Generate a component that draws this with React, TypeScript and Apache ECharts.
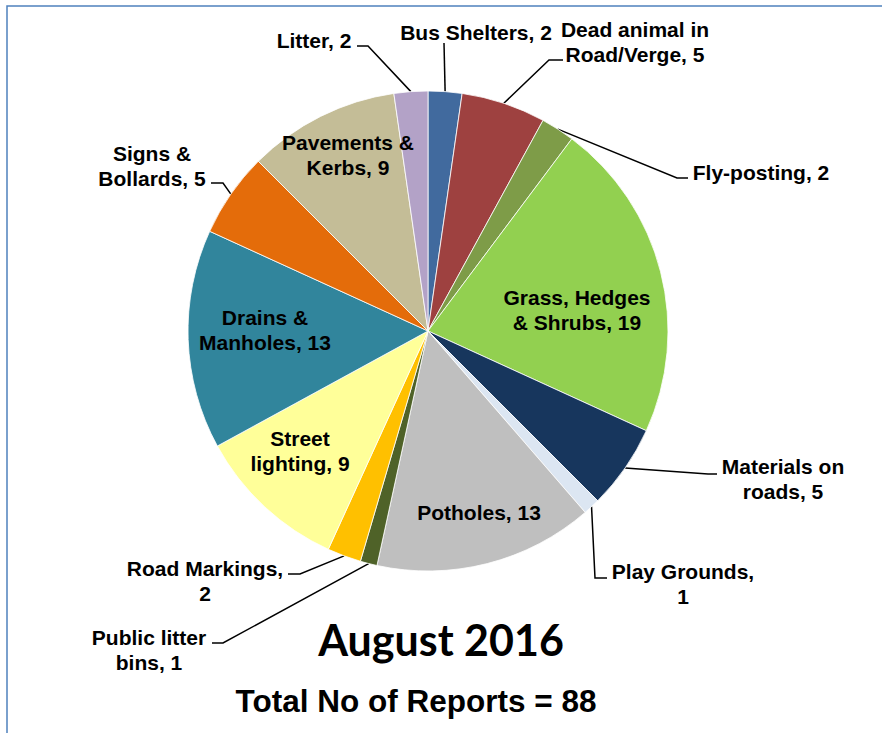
import React, { useEffect, useRef } from 'react';
import * as echarts from 'echarts';

// ---- data ----
const categories: string[] = [
  'Bus Shelters',
  'Dead animal in Road/Verge',
  'Fly-posting',
  'Grass, Hedges & Shrubs',
  'Materials on roads',
  'Play Grounds',
  'Potholes',
  'Public litter bins',
  'Road Markings',
  'Street lighting',
  'Drains & Manholes',
  'Signs & Bollards',
  'Pavements & Kerbs',
  'Litter',
];
const values: number[] = [2, 5, 2, 19, 5, 1, 13, 1, 2, 9, 13, 5, 9, 2];
// label text as wrapped in the reference ({c} = value)
const labelFormats: string[] = [
  'Bus Shelters, {c}',
  'Dead animal in\nRoad/Verge, {c}',
  'Fly-posting, {c}',
  'Grass, Hedges\n& Shrubs, {c}',
  'Materials on\nroads, {c}',
  'Play Grounds,\n{c}',
  'Potholes, {c}',
  'Public litter\nbins, {c}',
  'Road Markings,\n{c}',
  'Street\nlighting, {c}',
  'Drains &\nManholes, {c}',
  'Signs &\nBollards, {c}',
  'Pavements &\nKerbs, {c}',
  'Litter, {c}',
];
const insideLabels: string[] = [
  'Grass, Hedges & Shrubs',
  'Potholes',
  'Street lighting',
  'Drains & Manholes',
  'Pavements & Kerbs',
];
const titleText = 'August 2016';
const subtitleText = 'Total No of Reports = 88';

// ---- styles ----
const colors: string[] = [
  '#416A9E', '#9E4140', '#7E9C48', '#92D050', '#17365D', '#DCE6F2', '#BFBFBF',
  '#4F6228', '#FFC000', '#FFFF99', '#31859C', '#E46C0A', '#C4BD97', '#B3A2C7',
];

// ---- label layout (text centre, leader elbow points) ----
const labelLayoutMap: Record<string, { x: number; y: number; line?: number[][] }> = {
  'Bus Shelters': { x: 476, y: 32, line: [[444, 43]] },
  'Dead animal in Road/Verge': { x: 635, y: 42, line: [[549, 60], [563, 60]] },
  'Fly-posting': { x: 761, y: 172, line: [[677, 178], [688, 178]] },
  'Grass, Hedges & Shrubs': { x: 577, y: 310 },
  'Materials on roads': { x: 783, y: 479, line: [[708, 474], [717, 474]] },
  'Play Grounds': { x: 683, y: 584, line: [[595, 578], [607, 578]] },
  'Potholes': { x: 479, y: 512 },
  'Public litter bins': { x: 149, y: 650, line: [[223, 643], [212, 643]] },
  'Road Markings': { x: 205, y: 581, line: [[300, 574], [288, 574]] },
  'Street lighting': { x: 300, y: 451 },
  'Drains & Manholes': { x: 265, y: 330 },
  'Signs & Bollards': { x: 152, y: 166, line: [[223, 183], [211, 183]] },
  'Pavements & Kerbs': { x: 348, y: 155 },
  'Litter': { x: 314, y: 40, line: [[368, 46], [357, 46]] },
};

const labelFont = "'Liberation Sans', Arial, sans-serif";

export default function App() {
  const ref = useRef<HTMLDivElement>(null);

  useEffect(() => {
    if (!ref.current) return;
    const chart = echarts.init(ref.current, undefined, { renderer: 'svg' });

    const data = categories.map((name, i) => {
      const inside = insideLabels.includes(name);
      return {
        name,
        value: values[i],
        itemStyle: { color: colors[i] },
        label: {
          position: inside ? 'inside' : 'outside',
          formatter: labelFormats[i],
        },
        labelLine: { show: !inside },
      };
    });

    chart.setOption({
      animation: false,
      backgroundColor: '#ffffff',
      graphic: [
        {
          type: 'rect',
          z: -1,
          shape: { x: 7, y: 6, width: 900, height: 800 },
          style: { fill: 'none', stroke: '#4F81BD', lineWidth: 1.5 },
          silent: true,
        },
        {
          type: 'text',
          x: 441,
          y: 639,
          style: {
            text: titleText,
            fontFamily: "Lato, 'Open Sans', sans-serif",
            fontWeight: 'bold',
            fontSize: 43,
            fill: '#000',
            textAlign: 'center',
            textVerticalAlign: 'middle',
          },
        },
        {
          type: 'text',
          x: 416,
          y: 701,
          style: {
            text: subtitleText,
            fontFamily: labelFont,
            fontWeight: 'bold',
            fontSize: 31.5,
            fill: '#000',
            textAlign: 'center',
            textVerticalAlign: 'middle',
          },
        },
      ],
      series: [
        {
          type: 'pie',
          center: [428, 331],
          radius: 240,
          startAngle: 90,
          clockwise: true,
          avoidLabelOverlap: false,
          emphasis: { disabled: true },
          itemStyle: { borderColor: '#ffffff', borderWidth: 0.8 },
          label: {
            show: true,
            color: '#000',
            fontFamily: labelFont,
            fontWeight: 'bold',
            fontSize: 21,
            lineHeight: 25,
            align: 'center',
          },
          labelLine: {
            show: true,
            lineStyle: { color: '#000', width: 1.5 },
          },
          labelLayout: (params: any) => {
            const name = categories[params.dataIndex];
            const a = labelLayoutMap[name];
            if (!a) return {};
            const res: any = { x: a.x, y: a.y, align: 'center', verticalAlign: 'middle' };
            if (a.line && params.labelLinePoints && params.labelLinePoints.length) {
              res.labelLinePoints = [params.labelLinePoints[0], ...a.line];
            }
            return res;
          },
          data,
        },
      ],
    });

    return () => chart.dispose();
  }, []);

  return (
    <div
      ref={ref}
      style={{ position: 'absolute', left: 0, top: 0, width: 882, height: 733 }}
    />
  );
}
